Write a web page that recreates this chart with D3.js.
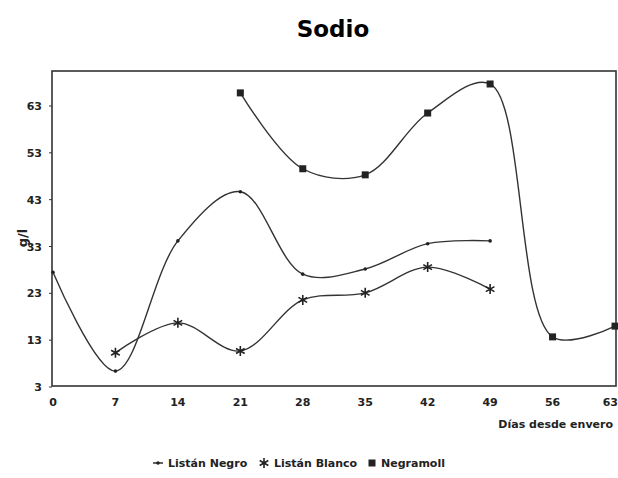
<!DOCTYPE html>
<html>
<head>
<meta charset="utf-8">
<script src="https://cdn.jsdelivr.net/npm/d3@7"></script>
<style>
  body { margin: 0; background: #fff; }
  svg text { font-family: "DejaVu Sans", Arial, sans-serif; fill: #222; }
</style>
</head>
<body>
<div id="chart"></div>
<script>
// days since veraison
const days = [0, 7, 14, 21, 28, 35, 42, 49, 56, 63];
const yTicks = [3, 13, 23, 33, 43, 53, 63];

// series (g/l), null = no sample
const listanNegro = [27.5, 6.4, 34.2, 44.7, 27.1, 28.2, 33.6, 34.2, null, null];
const listanBlanco = [null, 10.3, 16.7, 10.7, 21.6, 23.1, 28.6, 23.9, null, null];
const negramoll = [null, null, null, 65.8, 49.6, 48.3, 61.5, 67.7, 13.7, 16.0];

const seriesNames = ['Listán Negro', 'Listán Blanco', 'Negramoll'];

const width = 618, height = 478;
const svg = d3.select('#chart').append('svg')
    .attr('width', width)
    .attr('height', height);

const x = d3.scaleLinear().domain([0, 63]).range([53, 615]);
const y = d3.scaleLinear().domain([3, 63]).range([387, 106]);

// frame
svg.append('rect')
    .attr('x', 52).attr('y', 71)
    .attr('width', 564).attr('height', 315)
    .attr('fill', 'none')
    .attr('stroke', '#333')
    .attr('stroke-width', 1.6);

// title
svg.append('text')
    .attr('x', 333).attr('y', 37)
    .attr('text-anchor', 'middle')
    .style('font-size', '23px')
    .style('font-weight', 'bold')
    .style('fill', '#000')
    .text('Sodio');

// y axis labels
svg.append('g').selectAll('text')
    .data(yTicks)
    .join('text')
    .attr('x', 42)
    .attr('y', d => y(d) + 4)
    .attr('text-anchor', 'end')
    .style('font-size', '11px')
    .style('font-weight', 'bold')
    .text(d => d);

svg.append('g').selectAll('line')
    .data(yTicks)
    .join('line')
    .attr('x1', 49).attr('x2', 52)
    .attr('y1', d => y(d)).attr('y2', d => y(d))
    .attr('stroke', '#333');

// x axis labels (last one pulled in so it stays on the page)
svg.append('g').selectAll('text')
    .data(days)
    .join('text')
    .attr('x', (d, i) => i === days.length - 1 ? 618 : x(d))
    .attr('y', 406)
    .attr('text-anchor', (d, i) => i === days.length - 1 ? 'end' : 'middle')
    .style('font-size', '11px')
    .style('font-weight', 'bold')
    .text(d => d);

svg.append('text')
    .attr('transform', 'translate(27,238) rotate(-90)')
    .attr('text-anchor', 'middle')
    .style('font-size', '13px')
    .style('font-weight', 'bold')
    .text('g/l');

svg.append('text')
    .attr('x', 613).attr('y', 428)
    .attr('text-anchor', 'end')
    .style('font-size', '11px')
    .style('font-weight', 'bold')
    .text('Días desde envero');

// lines
const line = d3.line()
    .defined(d => d.v != null)
    .x(d => x(d.day))
    .y(d => y(d.v))
    .curve(d3.curveCatmullRom.alpha(0.5));

const allSeries = [listanNegro, listanBlanco, negramoll].map((vals, i) => ({
    name: seriesNames[i],
    points: days.map((day, j) => ({ day, v: vals[j] }))
}));

const plot = svg.append('g');

allSeries.forEach(s => {
    plot.append('path')
        .datum(s.points)
        .attr('d', line)
        .attr('fill', 'none')
        .attr('stroke', '#333')
        .attr('stroke-width', 1.4);
});

// markers
function drawMarker(g, i, cx, cy) {
    if (i === 0) {
        g.append('circle')
            .attr('cx', cx).attr('cy', cy).attr('r', 1.8)
            .attr('fill', '#222');
    } else if (i === 1) {
        g.append('path')
            .attr('transform', `translate(${cx},${cy})`)
            .attr('d', d3.symbol(d3.symbolAsterisk, 70)())
            .attr('fill', 'none')
            .attr('stroke', '#222')
            .attr('stroke-width', 1.6);
    } else {
        g.append('rect')
            .attr('x', cx - 3.5).attr('y', cy - 3.5)
            .attr('width', 7).attr('height', 7)
            .attr('fill', '#222');
    }
}

allSeries.forEach((s, i) => {
    s.points.filter(p => p.v != null).forEach(p => {
        drawMarker(plot, i, x(p.day), y(p.v));
    });
});

// legend
const legend = svg.append('g');
const legendItems = [
    { x: 158, tx: 168 },
    { x: 264, tx: 274 },
    { x: 372, tx: 381 }
];
legendItems.forEach((it, i) => {
    if (i === 0) {
        legend.append('line')
            .attr('x1', it.x - 5).attr('x2', it.x + 5)
            .attr('y1', 463).attr('y2', 463)
            .attr('stroke', '#222').attr('stroke-width', 1.4);
    }
    drawMarker(legend, i, it.x, 463);
    legend.append('text')
        .attr('x', it.tx).attr('y', 467)
        .style('font-size', '11px')
        .style('font-weight', 'bold')
        .text(seriesNames[i]);
});
</script>
</body>
</html>
